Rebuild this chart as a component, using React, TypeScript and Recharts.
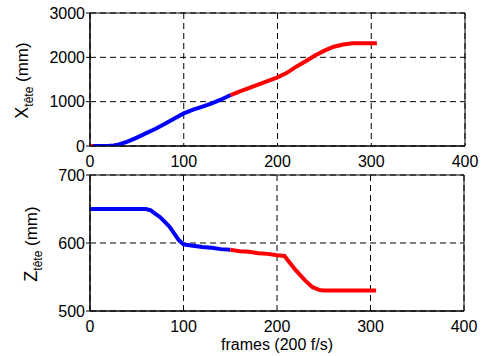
import React from "react";
import { LineChart, Line, XAxis, YAxis, CartesianGrid, ReferenceArea } from "recharts";

const FONT = "'Liberation Sans', Arial, Helvetica, sans-serif";

// Frame axis ticks
const frameTicks = [0, 100, 200, 300, 400];
const xTeteTicks = [0, 1000, 2000, 3000];
const zTeteTicks = [500, 600, 700];

// X tête (mm) — top panel
const xStartRedFrames = [0, 3];
const xStartRedValues = [0, 0];
const xBlueFrames = [3, 10, 20, 25, 30, 40, 50, 60, 70, 80, 90, 100, 110, 120, 130, 140, 150];
const xBlueValues = [0, 2, 5, 10, 30, 100, 190, 290, 390, 500, 620, 735, 820, 890, 960, 1050, 1150];
const xRedFrames = [150, 160, 170, 180, 190, 200, 210, 220, 230, 240, 250, 260, 270, 280, 290, 306];
const xRedValues = [1150, 1230, 1310, 1390, 1470, 1550, 1650, 1790, 1910, 2040, 2150, 2240, 2290, 2315, 2320, 2320];

// Z tête (mm) — bottom panel
const zBlueFrames = [0, 60, 65, 70, 75, 80, 85, 90, 95, 100, 110, 120, 130, 140, 150];
const zBlueValues = [650, 650, 648, 643, 638, 631, 624, 614, 604, 598, 596, 594, 593, 591, 590];
const zRedFrames = [150, 160, 170, 180, 190, 200, 208, 212, 220, 230, 238, 245, 250, 306];
const zRedValues = [590, 588, 587, 585, 584, 582, 581, 574, 560, 545, 535, 531, 530, 530];

const toRows = (frames: number[], values: number[]) =>
  frames.map((f, i) => ({ frame: f, value: values[i] }));

const BLUE = "#0000ff";
const RED = "#ff0000";

const makeYLabel = (letter: string, cx: number) => (props: any) => {
  const vb = props.viewBox || {};
  const cy = (vb.y ?? 0) + (vb.height ?? 0) / 2 + 1;
  return (
    <text
      x={cx}
      y={cy}
      transform={`rotate(-90, ${cx}, ${cy})`}
      textAnchor="middle"
      fontFamily={FONT}
      fill="#000"
    >
      <tspan fontSize={18}>{letter}</tspan>
      <tspan fontSize={12} dy={5}>tête</tspan>
      <tspan fontSize={17} dy={-5}> (mm)</tspan>
    </text>
  );
};

const XLabel = (props: any) => {
  const vb = props.viewBox || {};
  const cx = (vb.x ?? 0) + (vb.width ?? 0) / 2;
  return (
    <text x={cx} y={350} textAnchor="middle" fontFamily={FONT} fontSize={16} fill="#000">
      frames (200 f/s)
    </text>
  );
};

const tickStyle = { fontSize: 16, fontFamily: FONT, fill: "#000" };

export default function App() {
  return (
    <div style={{ position: "absolute", left: 0, top: 0, width: 483, height: 356, background: "#fff" }}>
      <div style={{ position: "absolute", left: 0, top: 0 }}>
        <LineChart width={483} height={170} margin={{ top: 13, right: 18, bottom: 0, left: 0 }}>
          <CartesianGrid stroke="#000" strokeDasharray="6 4" strokeWidth={1} />
          <XAxis
            type="number"
            dataKey="frame"
            domain={[0, 400]}
            ticks={frameTicks}
            height={24}
            tickLine={false}
            tickSize={0}
            tickMargin={10}
            axisLine={{ stroke: "#000" }}
            tick={tickStyle}
            allowDataOverflow
          />
          <YAxis
            type="number"
            dataKey="value"
            domain={[0, 3000]}
            ticks={xTeteTicks}
            width={90}
            tickLine={{ stroke: "#000" }}
            tickSize={4}
            tickMargin={1}
            axisLine={{ stroke: "#000" }}
            tick={tickStyle}
            label={{ content: makeYLabel("X", 28) }}
            allowDataOverflow
          />
          <ReferenceArea x1={0} x2={400} y1={0} y2={3000} fill="none" stroke="#000" strokeWidth={1} />
          <Line data={toRows(xBlueFrames, xBlueValues)} dataKey="value" stroke={BLUE} strokeWidth={4} dot={false} isAnimationActive={false} type="linear" />
          <Line data={toRows(xRedFrames, xRedValues)} dataKey="value" stroke={RED} strokeWidth={4} dot={false} isAnimationActive={false} type="linear" />
          <Line data={toRows(xStartRedFrames, xStartRedValues)} dataKey="value" stroke={RED} strokeWidth={4} dot={false} isAnimationActive={false} type="linear" />
        </LineChart>
      </div>
      <div style={{ position: "absolute", left: 0, top: 0 }}>
        <LineChart width={483} height={356} margin={{ top: 175, right: 19, bottom: 21, left: 0 }}>
          <CartesianGrid stroke="#000" strokeDasharray="6 4" strokeWidth={1} />
          <XAxis
            type="number"
            dataKey="frame"
            domain={[0, 400]}
            ticks={frameTicks}
            height={24}
            tickLine={false}
            tickSize={0}
            tickMargin={10}
            axisLine={{ stroke: "#000" }}
            tick={tickStyle}
            label={{ content: XLabel }}
            allowDataOverflow
          />
          <YAxis
            type="number"
            dataKey="value"
            domain={[500, 700]}
            ticks={zTeteTicks}
            width={90}
            tickLine={{ stroke: "#000" }}
            tickSize={4}
            tickMargin={1}
            axisLine={{ stroke: "#000" }}
            tick={tickStyle}
            label={{ content: makeYLabel("Z", 37) }}
            allowDataOverflow
          />
          <ReferenceArea x1={0} x2={400} y1={500} y2={700} fill="none" stroke="#000" strokeWidth={1} />
          <Line data={toRows(zBlueFrames, zBlueValues)} dataKey="value" stroke={BLUE} strokeWidth={4} dot={false} isAnimationActive={false} type="linear" />
          <Line data={toRows(zRedFrames, zRedValues)} dataKey="value" stroke={RED} strokeWidth={4} dot={false} isAnimationActive={false} type="linear" />
        </LineChart>
      </div>
    </div>
  );
}
